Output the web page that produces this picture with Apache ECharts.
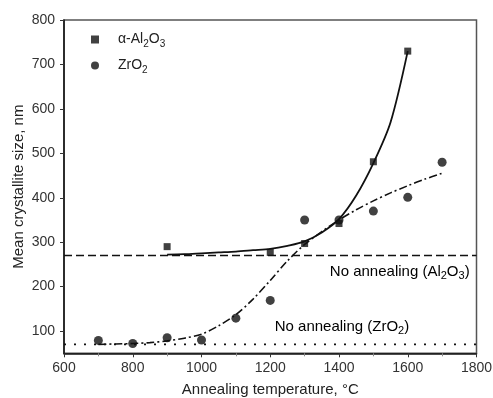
<!DOCTYPE html>
<html>
<head>
<meta charset="utf-8">
<script src="https://cdn.jsdelivr.net/npm/echarts@6/dist/echarts.min.js"></script>
<style>
  html, body { margin: 0; padding: 0; background: #fff; }
  #chart { width: 493px; height: 398px; }
</style>
</head>
<body>
<div id="chart"></div>
<script>
// measured points
const alTemp = [900, 1200, 1300, 1400, 1500, 1600];
const alSize = [290, 277, 297, 342, 481, 730];
const zrTemp = [700, 800, 900, 1000, 1100, 1200, 1300, 1400, 1500, 1600, 1700];
const zrSize = [79, 72, 85, 80, 129, 169, 350, 350, 370, 401, 480];

// fitted curves
const alFitTemp = [900, 950, 1000, 1050, 1100, 1150, 1200, 1250, 1300, 1350, 1400, 1450, 1500, 1550, 1600];
const alFitSize = [272, 273, 275, 277, 279, 282, 285, 292, 302, 322, 352, 405, 478, 570, 730];
const zrFitTemp = [700, 750, 800, 850, 900, 950, 1000, 1050, 1100, 1150, 1200, 1250, 1300, 1350, 1400, 1450, 1500, 1550, 1600, 1650, 1700];
const zrFitSize = [70, 71, 72, 74, 78, 84, 93, 112, 137, 172, 214, 258, 295, 324, 350, 373, 393, 411, 427, 442, 455];

// no-annealing levels
const baseRange = [600, 1800];
const alBase = 270;
const zrBase = 70;

const xTicks = [600, 800, 1000, 1200, 1400, 1600, 1800];
const yTicks = [100, 200, 300, 400, 500, 600, 700, 800];

const font = "'Liberation Sans', Arial, sans-serif";
const pairs = (xs, ys) => xs.map((x, i) => [x, ys[i]]);

// chemical formula -> rich text with subscripts
const sub = (s) => s.replace(/(\d)/g, "}{s|$1}{a|");
const richText = (s) => ("{a|" + sub(s) + "}").replace(/\{a\|\}/g, "");
const rich = (size) => ({
  a: { fontSize: size, fontFamily: font, color: "#222", lineHeight: 20, verticalAlign: "middle" },
  s: { fontSize: size - 4, fontFamily: font, color: "#222", lineHeight: 20, verticalAlign: "middle", padding: [9, 0, 0, 0] },
});

const myChart = echarts.init(document.getElementById("chart"));

const option = {
  animation: false,
  textStyle: { fontFamily: font },
  grid: {
    left: 64,
    right: 16.5,
    top: 20,
    bottom: 44.7,
    outerBoundsMode: "none",
    show: true,
    borderColor: "#555",
    borderWidth: 1.5,
  },
  legend: {
    orient: "vertical",
    left: 86,
    top: 25,
    itemWidth: 8,
    itemHeight: 8,
    itemGap: 7,
    formatter: (name) => richText(name),
    textStyle: { fontSize: 14, color: "#222", padding: [0, 0, 0, 14], rich: rich(14) },
    data: [
      { name: "α-Al2O3", icon: "rect" },
      { name: "ZrO2", icon: "circle" },
    ],
  },
  xAxis: {
    type: "value",
    min: xTicks[0],
    max: xTicks[xTicks.length - 1],
    interval: 200,
    name: "Annealing temperature, °C",
    nameLocation: "middle",
    nameGap: 29,
    nameTextStyle: { fontSize: 15, color: "#222", verticalAlign: "top" },
    axisLine: { lineStyle: { color: "#111", width: 1.5 } },
    axisTick: { length: 4, lineStyle: { color: "#333" } },
    minorTick: { show: true, splitNumber: 2, length: 3, lineStyle: { color: "#888" } },
    axisLabel: { fontSize: 14, color: "#333", margin: 8, formatter: (v) => String(v) },
    splitLine: { show: false },
  },
  yAxis: {
    type: "value",
    min: 50,
    max: 800,
    name: "Mean crystallite size, nm",
    nameLocation: "middle",
    nameGap: 38,
    nameMoveOverlap: false,
    nameTextStyle: { fontSize: 15, color: "#222" },
    axisLine: { lineStyle: { color: "#111", width: 1.5 } },
    axisTick: { length: 4, customValues: yTicks, lineStyle: { color: "#333" } },
    axisLabel: { fontSize: 14, color: "#333", margin: 9, customValues: yTicks },
    splitLine: { show: false },
  },
  series: [
    {
      name: "No annealing (Al2O3)",
      type: "line",
      data: baseRange.map((x) => [x, alBase]),
      symbol: "none",
      lineStyle: { color: "#111", width: 1.6, type: [8, 4] },
      z: 1,
    },
    {
      name: "No annealing (ZrO2)",
      type: "line",
      data: baseRange.map((x) => [x, zrBase]),
      symbol: "none",
      lineStyle: { color: "#111", width: 1.6, type: [2, 8] },
      z: 1,
    },
    {
      name: "Al fit",
      type: "line",
      data: pairs(alFitTemp, alFitSize),
      symbol: "none",
      smooth: 0.3,
      lineStyle: { color: "#111", width: 1.8 },
      z: 2,
    },
    {
      name: "Zr fit",
      type: "line",
      data: pairs(zrFitTemp, zrFitSize),
      symbol: "none",
      smooth: 0.3,
      lineStyle: { color: "#111", width: 1.6, type: [8, 3, 2, 3] },
      z: 2,
    },
    {
      name: "α-Al2O3",
      type: "scatter",
      data: pairs(alTemp, alSize),
      symbol: "rect",
      symbolSize: 7,
      itemStyle: { color: "#111" },
      z: 3,
    },
    {
      name: "ZrO2",
      type: "scatter",
      data: pairs(zrTemp, zrSize),
      symbol: "circle",
      symbolSize: 9,
      itemStyle: { color: "#111" },
      z: 3,
    },
  ],
};

option && myChart.setOption(option);

// annotation texts anchored in data space
const alLabelPos = myChart.convertToPixel({ gridIndex: 0 }, [1780, 234]);
const zrLabelPos = myChart.convertToPixel({ gridIndex: 0 }, [1213, 110]);
myChart.setOption({
  graphic: [
    {
      type: "text",
      x: alLabelPos[0],
      y: alLabelPos[1],
      style: {
        text: richText("No annealing (Al2O3)"),
        rich: rich(15),
        align: "right",
        verticalAlign: "middle",
      },
      z: 10,
    },
    {
      type: "text",
      x: zrLabelPos[0],
      y: zrLabelPos[1],
      style: {
        text: richText("No annealing (ZrO2)"),
        rich: rich(15),
        align: "left",
        verticalAlign: "middle",
      },
      z: 10,
    },
  ],
});
</script>
</body>
</html>
